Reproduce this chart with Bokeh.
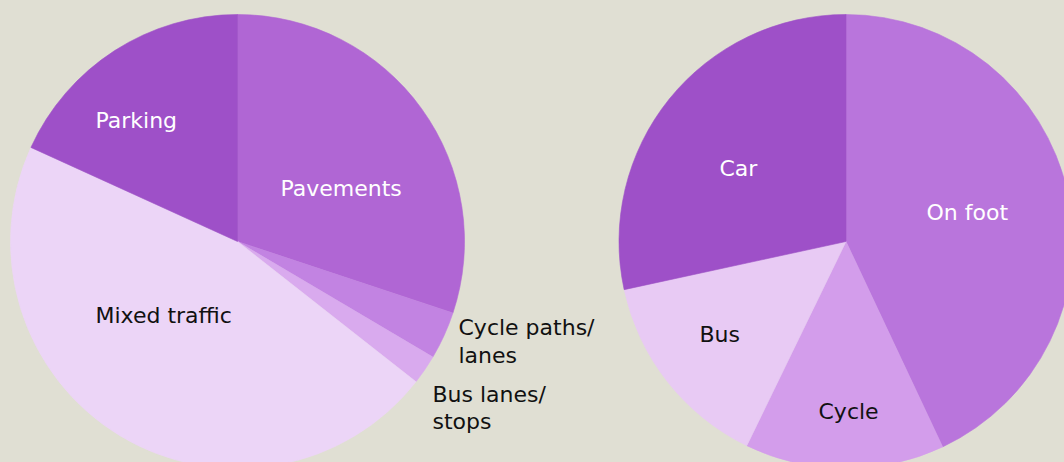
import math
from bokeh.plotting import figure
from bokeh.models import Range1d, ColumnDataSource
from bokeh.core.properties import value
from bokeh.embed import file_html
from bokeh.resources import INLINE

# ---- data ----
space_labels = ["Pavements", "Cycle paths/\nlanes", "Bus lanes/\nstops", "Mixed traffic", "Parking"]
space_values = [30.1, 3.4, 2.1, 46.2, 18.2]
space_colors = ["#b066d4", "#c283e2", "#d9aaee", "#ecd5f7", "#9e50c8"]
space_text_colors = ["#ffffff", "#111111", "#111111", "#111111", "#ffffff"]

mode_labels = ["On foot", "Cycle", "Bus", "Car"]
mode_values = [43.0, 14.2, 14.4, 28.4]
mode_colors = ["#b975dc", "#d39deb", "#e8caf4", "#9e50c8"]
mode_text_colors = ["#ffffff", "#111111", "#111111", "#ffffff"]

BG = "#e0dfd3"
FONT = "DejaVu Sans"

W, H = 1064, 462
p = figure(width=W, height=H, output_backend="svg", toolbar_location=None,
           x_range=Range1d(0, W), y_range=Range1d(0, H),
           min_border=0, background_fill_color=BG, border_fill_color=BG)
p.axis.visible = False
p.xgrid.visible = False
p.ygrid.visible = False
p.outline_line_color = None

R = 227


def wedges(cx, cy, vals, cols):
    tot = sum(vals)
    starts, ends = [], []
    acc = 0.0
    for v in vals:
        t0 = acc / tot * 2 * math.pi
        acc += v
        t1 = acc / tot * 2 * math.pi
        starts.append(math.pi / 2 - t0)
        ends.append(math.pi / 2 - t1)
    src = ColumnDataSource(dict(x=[cx] * len(vals), y=[cy] * len(vals),
                                s=starts, e=ends, c=cols))
    p.wedge(x="x", y="y", radius=R, start_angle="s", end_angle="e",
            direction="clock", fill_color="c", line_color="c", line_width=0.6,
            source=src)


def labels(cx, cy, texts, offsets, tcols):
    xs = [cx + o[0] for o in offsets]
    ys = [cy + o[1] for o in offsets]
    src = ColumnDataSource(dict(x=xs, y=ys, t=texts, c=tcols))
    p.text(x="x", y="y", text="t", text_color="c", source=src,
           text_font=value(FONT), text_font_size="22px",
           text_align="left", text_baseline="middle", text_line_height=1.1)


LC = (237, 221)
RC = (845.5, 221)

wedges(LC[0], LC[1], space_values, space_colors)
wedges(RC[0], RC[1], mode_values, mode_colors)

# label anchor offsets relative to pie centre (left-aligned text)
space_off = [(43, 53), (221, -100), (195, -166.5), (-142, -74), (-142, 121)]
mode_off = [(80.5, 29), (-27.5, -170), (-146.5, -93), (-126.5, 73)]
labels(LC[0], LC[1], space_labels, space_off, space_text_colors)
labels(RC[0], RC[1], mode_labels, mode_off, mode_text_colors)

html = file_html(p, INLINE)
html = html.replace("<head>", "<head><style>html,body{background:%s;overflow:hidden;}</style>" % BG, 1)
open("out.html", "w").write(html)
